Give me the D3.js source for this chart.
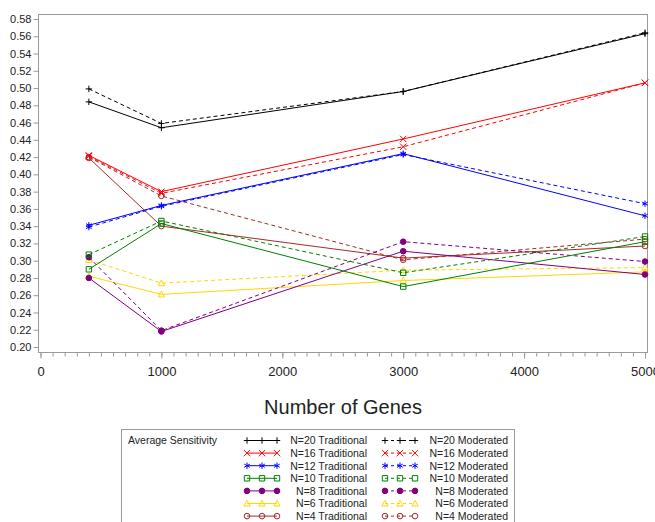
<!DOCTYPE html>
<html>
<head>
<meta charset="utf-8">
<script src="https://cdn.jsdelivr.net/npm/d3@7"></script>
<style>
body { margin: 0; background: #fff; }
text { font-family: "Liberation Sans", Arial, sans-serif; fill: #222; }
</style>
</head>
<body>
<div id="chart"></div>
<script>
// Number of genes (x values)
var genes = [400, 1000, 3000, 5000];
// Sample sizes, one traditional and one moderated series each
var sizes = [20, 16, 12, 10, 8, 6, 4];

// Average sensitivity, traditional
var trad20 = [0.484, 0.454, 0.496, 0.563];
var trad16 = [0.422, 0.380, 0.441, 0.506];
var trad12 = [0.341, 0.364, 0.424, 0.352];
var trad10 = [0.290, 0.343, 0.270, 0.322];
var trad8 = [0.280, 0.218, 0.311, 0.284];
var trad6 = [0.282, 0.261, 0.277, 0.287];
var trad4 = [0.419, 0.340, 0.303, 0.317];

// Average sensitivity, moderated
var mod20 = [0.499, 0.459, 0.496, 0.564];
var mod16 = [0.421, 0.378, 0.432, 0.506];
var mod12 = [0.339, 0.363, 0.423, 0.366];
var mod10 = [0.307, 0.346, 0.286, 0.328];
var mod8 = [0.304, 0.219, 0.322, 0.299];
var mod6 = [0.301, 0.274, 0.289, 0.292];
var mod4 = [0.420, 0.375, 0.301, 0.325];

// Tick labels
var xTicks = [0, 1000, 2000, 3000, 4000, 5000];
var yTicks = [0.20, 0.22, 0.24, 0.26, 0.28, 0.30, 0.32, 0.34, 0.36, 0.38, 0.40,
              0.42, 0.44, 0.46, 0.48, 0.50, 0.52, 0.54, 0.56, 0.58];

var traditional = [trad20, trad16, trad12, trad10, trad8, trad6, trad4];
var moderated = [mod20, mod16, mod12, mod10, mod8, mod6, mod4];

// one colour and symbol per sample size
var colors = ["#000000", "#ff0000", "#0000ff", "#008000", "#800080", "#ffd700", "#a52a2a"];
var symbols = ["plus", "x", "star", "square", "dot", "triangle", "circle"];

var width, height, svg, xScale, yScale, line;

// path for a marker of given type, centred on 0,0
function markerPath(type, s) {
    if (type == "plus") return "M" + (-s) + ",0H" + s + "M0," + (-s) + "V" + s;
    if (type == "x") return "M" + (-s) + "," + (-s) + "L" + s + "," + s + "M" + (-s) + "," + s + "L" + s + "," + (-s);
    if (type == "star") {
        var a = s * 0.87, b = s * 0.5;
        return "M0," + (-s) + "V" + s + "M" + (-a) + "," + (-b) + "L" + a + "," + b + "M" + (-a) + "," + b + "L" + a + "," + (-b);
    }
    if (type == "square") return "M" + (-s) + "," + (-s) + "H" + s + "V" + s + "H" + (-s) + "Z";
    if (type == "triangle") return "M0," + (-s) + "L" + s + "," + (s * 0.8) + "L" + (-s) + "," + (s * 0.8) + "Z";
    // circles
    return "M" + s + ",0A" + s + "," + s + " 0 1,1 " + (-s) + ",0A" + s + "," + s + " 0 1,1 " + s + ",0Z";
}

function markerSize(type) {
    if (type == "dot" || type == "circle") return 2.8;
    if (type == "square") return 2.7;
    return 3.2;
}

function drawMarker(g, type, color, x, y) {
    g.append("path")
        .attr("transform", "translate(" + x + "," + y + ")")
        .attr("d", markerPath(type, markerSize(type)))
        .attr("fill", type == "dot" ? color : "none")
        .attr("stroke", color)
        .attr("stroke-width", 1);
}

function drawSeries(values, i, dashed) {
    var pts = genes.map(function (g, j) { return { x: g, y: values[j] }; });

    svg.append("path")
        .datum(pts)
        .attr("d", line)
        .attr("fill", "none")
        .attr("stroke", colors[i])
        .attr("stroke-width", 1)
        .attr("stroke-dasharray", dashed ? "4,3" : null);

    var g = svg.append("g");
    pts.forEach(function (p) {
        drawMarker(g, symbols[i], colors[i], xScale(p.x), yScale(p.y));
    });
}

function drawAxes() {
    // frame
    svg.append("rect")
        .attr("x", 38.5).attr("y", 14.5)
        .attr("width", 609).attr("height", 338)
        .attr("fill", "none")
        .attr("stroke", "#9a9a9a");

    // y axis
    var yAxis = d3.axisLeft(yScale)
        .tickValues(yTicks)
        .tickFormat(d3.format(".2f"))
        .tickSize(5)
        .tickPadding(2);
    var gy = svg.append("g")
        .attr("transform", "translate(38.5,0)")
        .call(yAxis);
    gy.select(".domain").remove();
    gy.selectAll("line").attr("stroke", "#9a9a9a");
    gy.selectAll("text").attr("font-size", "11px").attr("font-family", null);

    // x axis, minor ticks
    var gm = svg.append("g")
        .attr("transform", "translate(0,352.5)")
        .call(d3.axisBottom(xScale).tickValues(d3.range(0, 5001, 100)).tickSize(4).tickFormat(""));
    gm.select(".domain").remove();
    gm.selectAll("line").attr("stroke", "#9a9a9a");

    // x axis, major ticks
    var gx = svg.append("g")
        .attr("transform", "translate(0,352.5)")
        .call(d3.axisBottom(xScale).tickValues(xTicks).tickSize(6).tickPadding(8).tickFormat(d3.format("d")));
    gx.select(".domain").remove();
    gx.selectAll("line").attr("stroke", "#9a9a9a");
    gx.selectAll("text").attr("font-size", "13px").attr("font-family", null);

    svg.append("text")
        .attr("x", 343).attr("y", 414)
        .attr("text-anchor", "middle")
        .attr("font-size", "20px")
        .text("Number of Genes");
}

function drawLegend() {
    var lg = svg.append("g");
    lg.append("rect")
        .attr("x", 121.5).attr("y", 429.5)
        .attr("width", 393).attr("height", 110)
        .attr("fill", "none")
        .attr("stroke", "#9a9a9a");

    lg.append("text")
        .attr("x", 128).attr("y", 444)
        .attr("font-size", "10.5px")
        .text("Average Sensitivity");

    sizes.forEach(function (n, i) {
        var y = 440.5 + i * 12.6;
        [[247, 367, " Traditional", false], [385, 508, " Moderated", true]].forEach(function (c) {
            lg.append("line")
                .attr("x1", c[0]).attr("x2", c[0] + 30)
                .attr("y1", y).attr("y2", y)
                .attr("stroke", colors[i])
                .attr("stroke-dasharray", c[3] ? "3,3" : null);
            [0, 15, 30].forEach(function (dx) {
                drawMarker(lg, symbols[i], colors[i], c[0] + dx, y);
            });
            lg.append("text")
                .attr("x", c[1]).attr("y", y + 3.8)
                .attr("text-anchor", "end")
                .attr("font-size", "10.5px")
                .text("N=" + n + c[2]);
        });
    });
}

function init() {
    width = 655;
    height = 522;

    svg = d3.select("#chart")
        .append("svg")
        .attr("width", width)
        .attr("height", height);

    xScale = d3.scaleLinear().domain([0, 5000]).range([40.5, 645]);
    yScale = d3.scaleLinear().domain([0.20, 0.58]).range([347, 19]);

    line = d3.line()
        .x(function (d) { return xScale(d.x); })
        .y(function (d) { return yScale(d.y); });

    drawAxes();

    for (var i = sizes.length - 1; i >= 0; i--) {
        drawSeries(traditional[i], i, false);
        drawSeries(moderated[i], i, true);
    }

    drawLegend();
}

window.onload = init;
</script>
</body>
</html>
